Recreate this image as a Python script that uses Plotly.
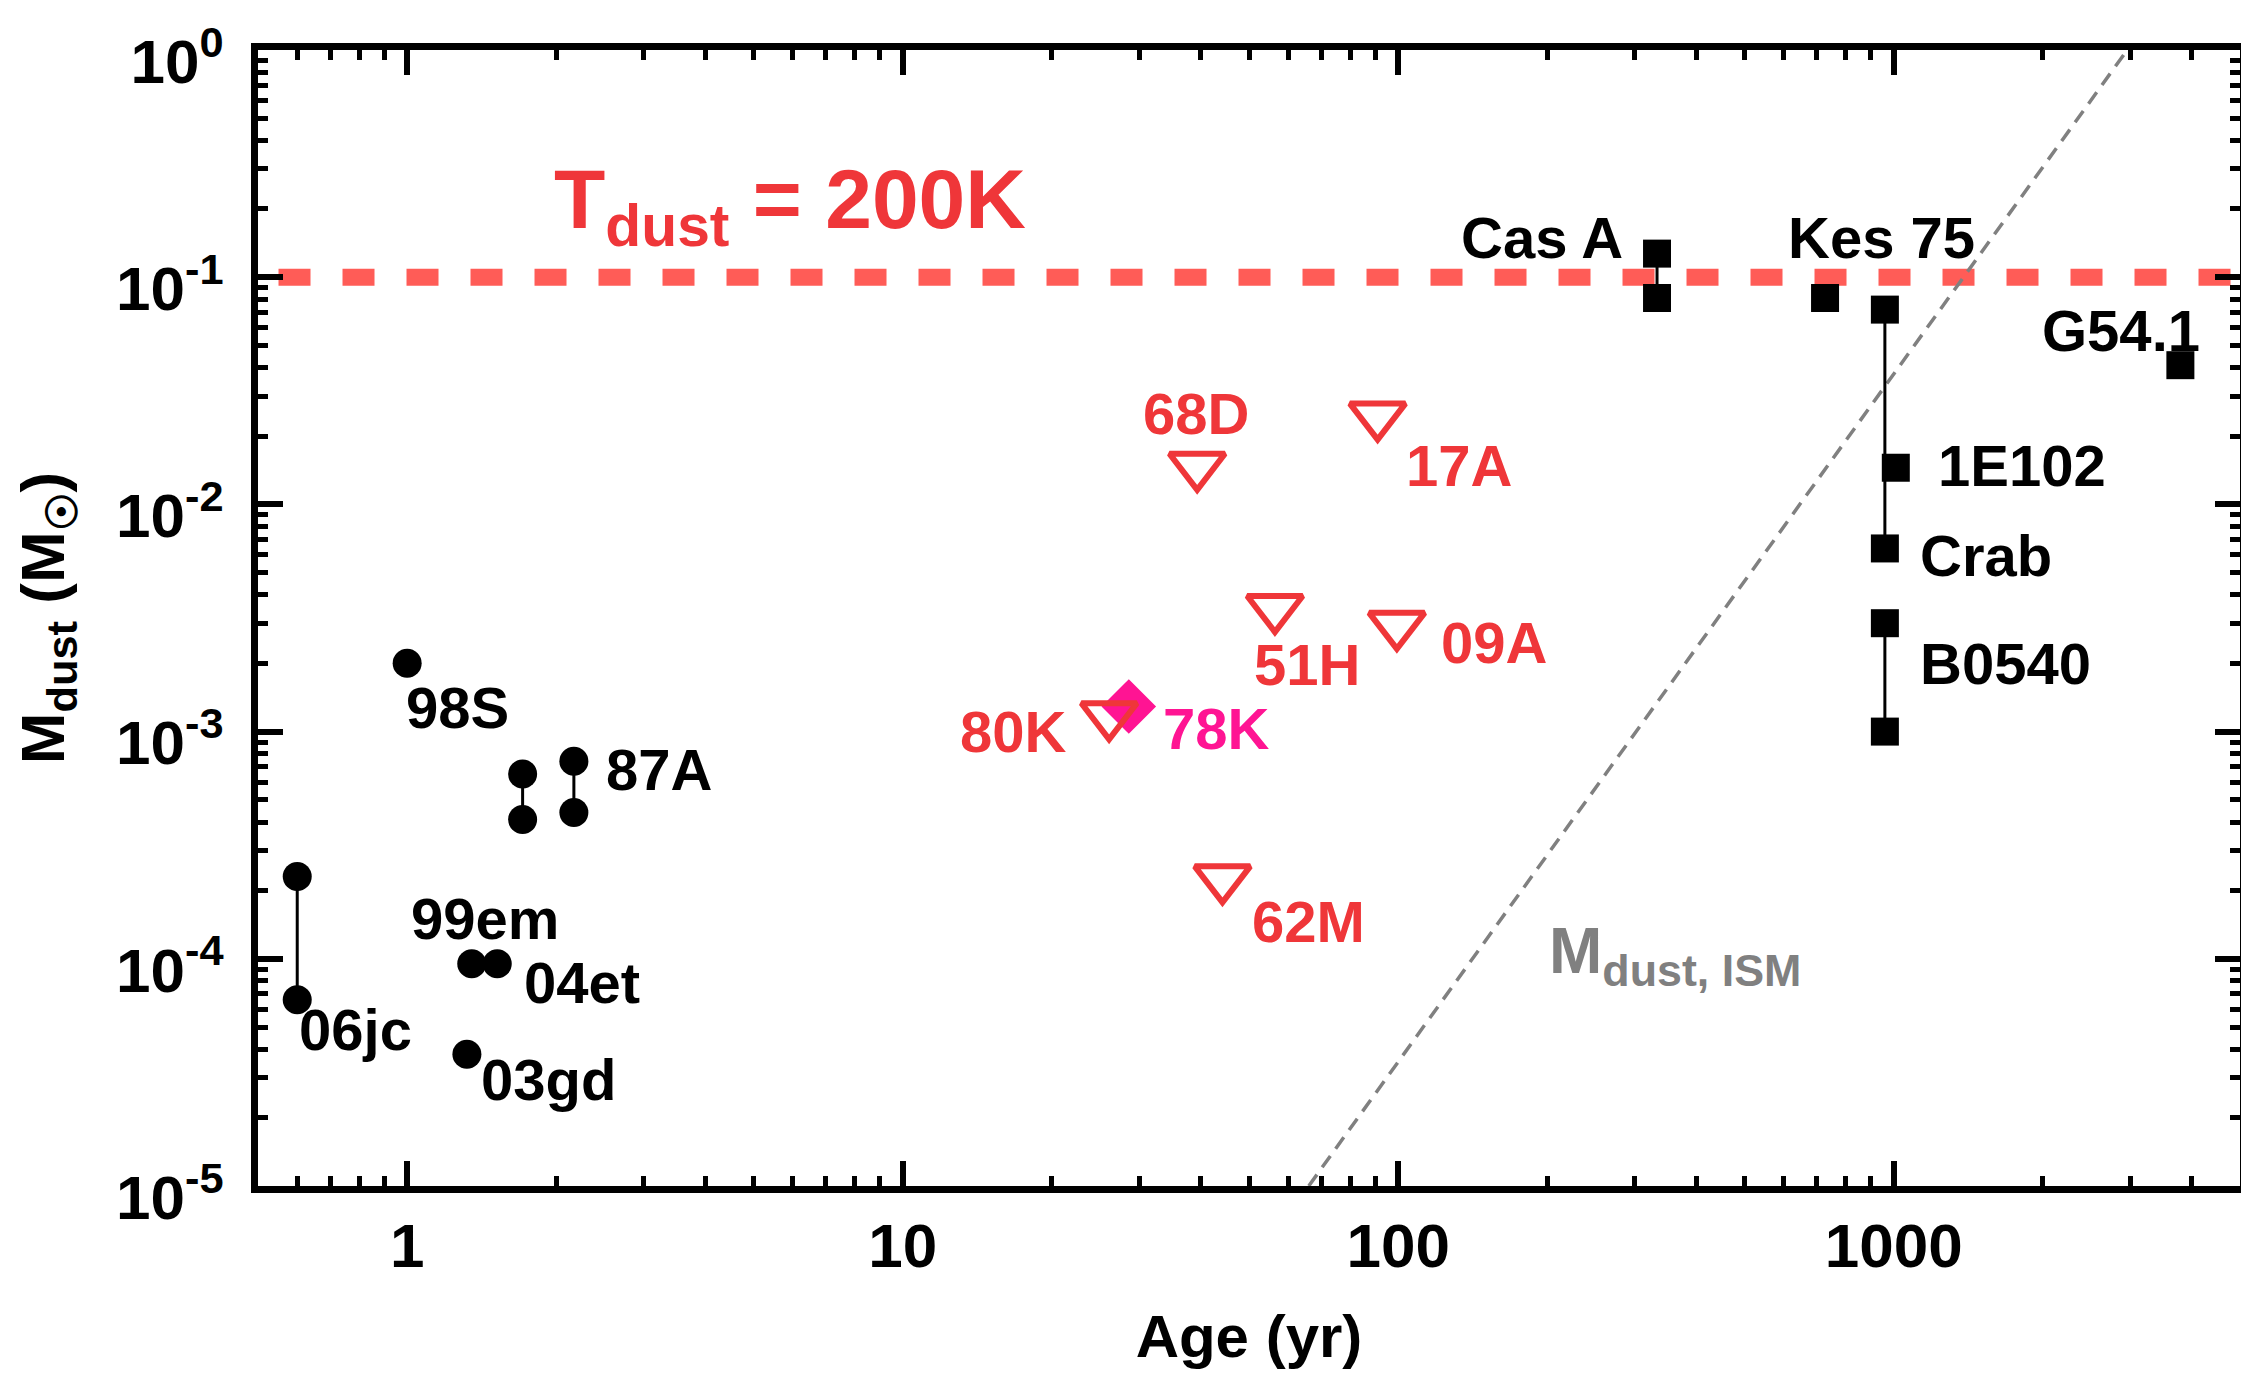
import numpy as np
import plotly.graph_objects as go

# ---------------- data ----------------
SN_NAMES = ["98S", "87A", "87A", "06jc", "99em", "04et", "03gd"]
SN_AGE = [1.0, 1.71, 2.17, 0.60, 1.35, 1.52, 1.32]
SN_MASS_HI = [2.0e-3, 6.5e-4, 7.4e-4, 2.3e-4, 9.5e-5, 9.5e-5, 3.8e-5]
SN_MASS_LO = [None, 4.1e-4, 4.4e-4, 6.6e-5, None, None, None]

SNR_NAMES = ["Cas A", "Kes 75", "Crab", "1E102", "B0540", "G54.1"]
SNR_AGE = [333, 727, 960, 1010, 960, 3790]
SNR_MASS_HI = [0.127, 0.081, 0.072, 0.0145, 3.0e-3, 0.041]
SNR_MASS_LO = [0.081, None, 6.4e-3, None, 1.0e-3, None]

LIM_NAMES = ["68D", "17A", "51H", "09A", "80K", "62M"]
LIM_AGE = [39.3, 90.9, 56.4, 99.4, 26.1, 44.2]
LIM_MASS = [0.0148, 0.0246, 3.5e-3, 2.95e-3, 1.18e-3, 2.26e-4]

DET_NAMES = ["78K"]
DET_AGE = [28.6]
DET_MASS = [1.29e-3]

TDUST_AGE = [0.55, 5000]
TDUST_MASS = [0.1, 0.1]

ISM_AGE = [66, 2960]
ISM_MASS = [1e-5, 1.0]

X_RANGE = [0.5, 5000]
Y_RANGE = [1e-5, 1.0]
X_TICKS = [1, 10, 100, 1000]
X_TICKTEXT = ["1", "10", "100", "1000"]
Y_TICKS = [1e-5, 1e-4, 1e-3, 1e-2, 1e-1, 1]
Y_TICKTEXT = ["10<sup>-5</sup>", "10<sup>-4</sup>", "10<sup>-3</sup>",
              "10<sup>-2</sup>", "10<sup>-1</sup>", "10<sup>0</sup>"]

# ---------------- styles ----------------
FONT = "Liberation Sans, Arial, Helvetica, sans-serif"
RED = "#EF3639"
RED_LINE = "#FF5C57"
PINK = "#FF1493"
GRAY = "#808080"


def segments(ages, his, los):
    xs, ys = [], []
    for a, h, l in zip(ages, his, los):
        if l is not None:
            xs += [a, a, None]
            ys += [h, l, None]
    return xs, ys


def all_points(ages, his, los):
    xs, ys = list(ages), list(his)
    for a, l in zip(ages, los):
        if l is not None:
            xs.append(a)
            ys.append(l)
    return xs, ys


fig = go.Figure()

# T_dust = 200K line
fig.add_trace(go.Scatter(x=TDUST_AGE, y=TDUST_MASS, mode="lines",
                         line=dict(color=RED_LINE, width=17, dash="32px,32px"),
                         hoverinfo="skip", showlegend=False))
# ISM line
fig.add_trace(go.Scatter(x=ISM_AGE, y=ISM_MASS, mode="lines",
                         line=dict(color=GRAY, width=3.5, dash="14px,9px"),
                         hoverinfo="skip", showlegend=False))

# connecting segments
sx, sy = segments(SN_AGE, SN_MASS_HI, SN_MASS_LO)
rx, ry = segments(SNR_AGE, SNR_MASS_HI, SNR_MASS_LO)
fig.add_trace(go.Scatter(x=sx + rx, y=sy + ry, mode="lines",
                         line=dict(color="black", width=3),
                         hoverinfo="skip", showlegend=False))

# SNe circles
px_, py_ = all_points(SN_AGE, SN_MASS_HI, SN_MASS_LO)
fig.add_trace(go.Scatter(x=px_, y=py_, mode="markers",
                         marker=dict(symbol="circle", size=29, color="black"),
                         showlegend=False))
# SNR squares
px_, py_ = all_points(SNR_AGE, SNR_MASS_HI, SNR_MASS_LO)
fig.add_trace(go.Scatter(x=px_, y=py_, mode="markers",
                         marker=dict(symbol="square", size=28, color="black"),
                         showlegend=False))
# 78K diamond
fig.add_trace(go.Scatter(x=DET_AGE, y=DET_MASS, mode="markers",
                         marker=dict(symbol="diamond", size=42, color=PINK),
                         showlegend=False))
# upper limits
fig.add_trace(go.Scatter(x=LIM_AGE, y=LIM_MASS, mode="markers",
                         marker=dict(symbol="triangle-down-open", size=48, color=RED,
                                     line=dict(color=RED, width=6)),
                         showlegend=False))

# ---------------- labels ----------------
LABEL_FONT = 58
labels = []
sn_off = {  # index: (ref, anchor, dx, dy_down)
    0: ("hi", "left", -3, 44),
    2: ("hi", "left", 30, 8),
    3: ("lo", "left", 0, 30),
    4: ("hi", "left", -63, -45),
    5: ("hi", "left", 25, 19),
    6: ("hi", "left", 12, 25),
}
for i, (ref, anc, dx, dy) in sn_off.items():
    m = SN_MASS_HI[i] if ref == "hi" else SN_MASS_LO[i]
    labels.append((SN_NAMES[i], SN_AGE[i], m, anc, dx, dy, "black"))

snr_off = {
    0: ("hi", "right", -32, -16),
    1: ("hi", "center", 56, -60),
    2: ("lo", "left", 33, 7),
    3: ("hi", "left", 40, -2),
    4: ("hi", "left", 33, 40),
    5: ("hi", "right", 22, -35),
}
for i, (ref, anc, dx, dy) in snr_off.items():
    m = SNR_MASS_HI[i] if ref == "hi" else SNR_MASS_LO[i]
    labels.append((SNR_NAMES[i], SNR_AGE[i], m, anc, dx, dy, "black"))

lim_off = {
    0: ("center", -1, -52),
    1: ("left", 26, 50),
    2: ("left", -23, 57),
    3: ("left", 42, 18),
    4: ("right", -40, 16),
    5: ("left", 28, 43),
}
for i, (anc, dx, dy) in lim_off.items():
    labels.append((LIM_NAMES[i], LIM_AGE[i], LIM_MASS[i], anc, dx, dy, RED))
labels.append((DET_NAMES[0], DET_AGE[0], DET_MASS[0], "left", 32, 22, PINK))

annotations = []
for name, a, m, anc, dx, dy, col in labels:
    annotations.append(dict(
        x=np.log10(a), y=np.log10(m), xref="x", yref="y",
        text=name, showarrow=False, xanchor=anc, yanchor="middle",
        xshift=dx, yshift=-dy,
        font=dict(family=FONT, size=LABEL_FONT, color=col, weight="bold")))

annotations.append(dict(
    x=0.1483, y=0.8636, xref="paper", yref="paper",
    text="T<sub>dust</sub> = 200K", showarrow=False,
    xanchor="left", yanchor="middle",
    font=dict(family=FONT, size=84, color=RED, weight="bold")))
annotations.append(dict(
    x=0.6505, y=0.203, xref="paper", yref="paper",
    text="M<sub>dust, ISM</sub>", showarrow=False,
    xanchor="left", yanchor="middle",
    font=dict(family=FONT, size=64, color=GRAY, weight="bold")))

axis_common = dict(
    showline=True, linewidth=7, linecolor="black", mirror="ticks",
    ticks="inside", ticklen=25, tickwidth=6, tickcolor="black",
    showgrid=False, zeroline=False,
    tickfont=dict(family=FONT, size=62, color="black", weight="bold"),
    minor=dict(ticks="inside", ticklen=10, tickwidth=5, tickcolor="black",
               dtick="D1", showgrid=False),
)

fig.update_layout(
    width=2241, height=1373,
    margin=dict(l=258, r=1, t=50, b=187, autoexpand=False),
    paper_bgcolor="white", plot_bgcolor="white",
    showlegend=False,
    annotations=annotations,
    xaxis=dict(type="log", range=[np.log10(X_RANGE[0]), np.log10(X_RANGE[1])],
               tickmode="array", tickvals=X_TICKS, ticktext=X_TICKTEXT,
               title=dict(text="Age (yr)", standoff=38,
                          font=dict(family=FONT, size=60, color="black", weight="bold")),
               automargin=False, **axis_common),
    yaxis=dict(type="log", range=[np.log10(Y_RANGE[0]), np.log10(Y_RANGE[1])],
               tickmode="array", tickvals=Y_TICKS, ticktext=Y_TICKTEXT,
               ticklabelstandoff=15, ticklabelshift=11,
               title=dict(text="M<sub>dust</sub> (M<sub>\u2609</sub>)", standoff=34,
                          font=dict(family=FONT, size=62, color="black", weight="bold")),
               automargin=False, **axis_common),
)

fig.write_html("out.html")
